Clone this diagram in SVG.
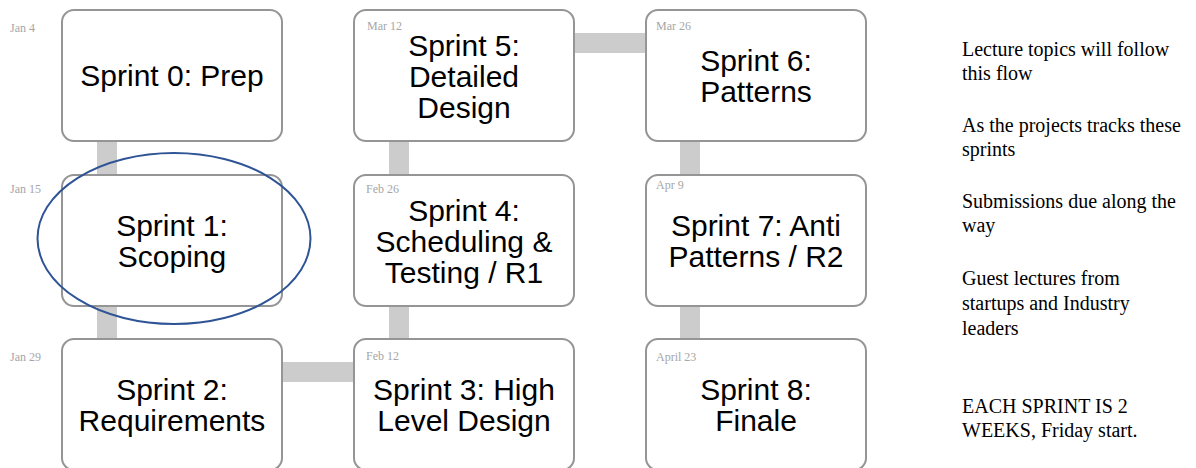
<svg xmlns="http://www.w3.org/2000/svg" width="1196" height="468" viewBox="0 0 1196 468">
  <style>
    .box { fill: #ffffff; stroke: #959595; stroke-width: 2; }
    .bar { fill: #cccccc; }
    .title { font-family: "Liberation Sans", Arial, sans-serif; font-size: 30px; fill: #000000; text-anchor: middle; }
    .date { font-family: "Liberation Serif", "Times New Roman", serif; font-size: 12px; fill: #a6a6a6; }
    .note { font-family: "Liberation Serif", "Times New Roman", serif; font-size: 20px; fill: #000000; }
    .ring { fill: none; stroke: #2f5496; stroke-width: 2; }
  </style>
  <rect width="1196" height="468" fill="#ffffff"/>

  <!-- connectors between sprints -->
  <g id="connectors">
    <rect class="bar" x="97" y="140" width="20" height="36"/>
    <rect class="bar" x="97" y="305" width="20" height="35"/>
    <rect class="bar" x="281" y="362" width="74" height="20"/>
    <rect class="bar" x="389" y="305" width="20" height="35"/>
    <rect class="bar" x="389" y="140" width="20" height="36"/>
    <rect class="bar" x="573" y="33" width="74" height="20"/>
    <rect class="bar" x="680" y="140" width="20" height="36"/>
    <rect class="bar" x="680" y="305" width="20" height="35"/>
  </g>

  <g id="sprint0">
    <rect class="box" x="62" y="10" width="220" height="131" rx="12"/>
    <text class="date" x="10" y="32">Jan 4</text>
    <text class="title" x="172" y="86">Sprint 0: Prep</text>
  </g>

  <g id="sprint1">
    <rect class="box" x="62" y="175" width="220" height="131" rx="12"/>
    <text class="date" x="10" y="193">Jan 15</text>
    <text class="title" x="172" y="236">Sprint 1:</text>
    <text class="title" x="172" y="267">Scoping</text>
  </g>

  <g id="sprint2">
    <rect class="box" x="62" y="339" width="220" height="131" rx="12"/>
    <text class="date" x="10" y="361">Jan 29</text>
    <text class="title" x="172" y="400">Sprint 2:</text>
    <text class="title" x="172" y="431">Requirements</text>
  </g>

  <g id="sprint3">
    <rect class="box" x="354" y="339" width="220" height="131" rx="12"/>
    <text class="date" x="366" y="360">Feb 12</text>
    <text class="title" x="464" y="400">Sprint 3: High</text>
    <text class="title" x="464" y="431">Level Design</text>
  </g>

  <g id="sprint4">
    <rect class="box" x="354" y="175" width="220" height="131" rx="12"/>
    <text class="date" x="366" y="193">Feb 26</text>
    <text class="title" x="464" y="221">Sprint 4:</text>
    <text class="title" x="464" y="252">Scheduling &amp;</text>
    <text class="title" x="464" y="283">Testing / R1</text>
  </g>

  <g id="sprint5">
    <rect class="box" x="354" y="10" width="220" height="131" rx="12"/>
    <text class="date" x="367" y="30">Mar 12</text>
    <text class="title" x="464" y="56">Sprint 5:</text>
    <text class="title" x="464" y="87">Detailed</text>
    <text class="title" x="464" y="118">Design</text>
  </g>

  <g id="sprint6">
    <rect class="box" x="646" y="10" width="220" height="131" rx="12"/>
    <text class="date" x="656" y="30">Mar 26</text>
    <text class="title" x="756" y="71">Sprint 6:</text>
    <text class="title" x="756" y="102">Patterns</text>
  </g>

  <g id="sprint7">
    <rect class="box" x="646" y="175" width="220" height="131" rx="12"/>
    <text class="date" x="656" y="189">Apr 9</text>
    <text class="title" x="756" y="236">Sprint 7: Anti</text>
    <text class="title" x="756" y="267">Patterns / R2</text>
  </g>

  <g id="sprint8">
    <rect class="box" x="646" y="339" width="220" height="131" rx="12"/>
    <text class="date" x="656" y="361">April 23</text>
    <text class="title" x="756" y="400">Sprint 8:</text>
    <text class="title" x="756" y="431">Finale</text>
  </g>

  <!-- highlight round the current sprint -->
  <g id="highlight">
    <ellipse class="ring" cx="174" cy="238.5" rx="136.5" ry="85.5"/>
  </g>

  <g id="notes">
    <text class="note" x="962" y="56">Lecture topics will follow</text>
    <text class="note" x="962" y="80">this flow</text>
    <text class="note" x="962" y="132">As the projects tracks these</text>
    <text class="note" x="962" y="156">sprints</text>
    <text class="note" x="962" y="208">Submissions due along the</text>
    <text class="note" x="962" y="232">way</text>
    <text class="note" x="962" y="285">Guest lectures from</text>
    <text class="note" x="962" y="310">startups and Industry</text>
    <text class="note" x="962" y="335">leaders</text>
    <text class="note" x="962" y="413">EACH SPRINT IS 2</text>
    <text class="note" x="962" y="437">WEEKS, Friday start.</text>
  </g>
</svg>
